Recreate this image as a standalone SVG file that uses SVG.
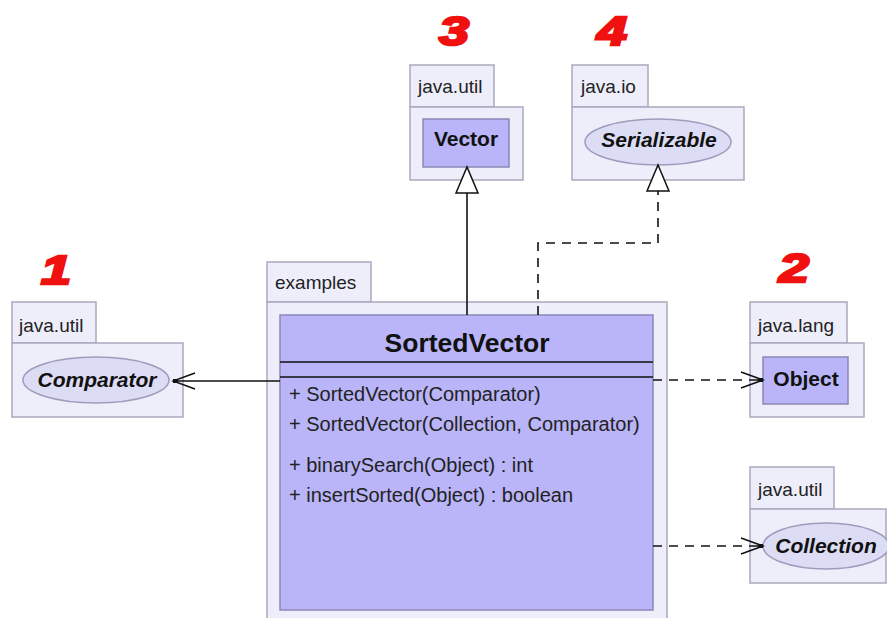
<svg xmlns="http://www.w3.org/2000/svg" width="887" height="618" viewBox="0 0 887 618">
<style>
.pkg{fill:#EEEEFB;stroke:#A9A9BD;stroke-width:1.5}
.cls{fill:#B9B5F8;stroke:#8A88B8;stroke-width:1.5}
.ifc{fill:#DCDCF4;stroke:#9C9CBC;stroke-width:1.5}
.plab{font-family:"Liberation Sans",Arial,sans-serif;font-size:19px;fill:#222}
.name{font-family:"Liberation Sans",Arial,sans-serif;font-size:21px;font-weight:bold;fill:#111;text-anchor:middle}
.it{font-style:italic}
.op{font-family:"Liberation Sans",Arial,sans-serif;font-size:20px;fill:#222}
.num{font-family:"Liberation Sans",Arial,sans-serif;font-size:40px;font-weight:bold;font-style:italic;fill:#F01010;stroke:#F01010;stroke-width:2.5;text-anchor:middle}
.ln{stroke:#111;stroke-width:1.6;fill:none}
.dash{stroke-dasharray:9 7}
</style>
<defs>
<marker id="vee" markerUnits="userSpaceOnUse" markerWidth="26" markerHeight="20" viewBox="0 0 26 20" refX="24" refY="10" orient="auto">
<path d="M2,2 L24,10 L2,18" fill="none" stroke="#111" stroke-width="1.5"/>
<rect x="19" y="8" width="5" height="4" fill="#111"/>
</marker>
<marker id="tri" markerUnits="userSpaceOnUse" markerWidth="30" markerHeight="26" viewBox="0 0 30 26" refX="28" refY="13" orient="auto">
<path d="M2,2 L28,13 L2,24 Z" fill="#fff" stroke="#111" stroke-width="1.5"/>
</marker>
</defs>
<rect width="887" height="618" fill="#fff"/>

<g id="labels">
<text class="num" transform="translate(56,284) scale(1.35,1)">1</text>
<text class="num" transform="translate(794,282) scale(1.35,1)">2</text>
<text class="num" transform="translate(454,45) scale(1.35,1)">3</text>
<text class="num" transform="translate(612,45) scale(1.35,1)">4</text>
</g>

<g id="pkg-examples">
<rect class="pkg" x="267" y="262" width="104" height="40"/>
<rect class="pkg" x="267" y="302" width="400" height="320"/>
<text class="plab" x="275" y="289">examples</text>
</g>

<g id="SortedVector">
<rect class="cls" x="280" y="315" width="373" height="295"/>
<text x="467" y="352" font-family="Liberation Sans,Arial,sans-serif" font-size="26.5" font-weight="bold" fill="#111" text-anchor="middle">SortedVector</text>
<line x1="280" y1="362" x2="653" y2="362" stroke="#111" stroke-width="1.6"/>
<line x1="280" y1="377" x2="653" y2="377" stroke="#111" stroke-width="1.6"/>
<text class="op" x="289" y="401">+ SortedVector(Comparator)</text>
<text class="op" x="289" y="431">+ SortedVector(Collection, Comparator)</text>
<text class="op" x="289" y="472">+ binarySearch(Object) : int</text>
<text class="op" x="289" y="502">+ insertSorted(Object) : boolean</text>
</g>

<g id="Vector">
<rect class="pkg" x="410" y="65" width="84" height="42"/>
<rect class="pkg" x="410" y="107" width="113" height="73"/>
<text class="plab" x="418" y="93">java.util</text>
<rect class="cls" x="423" y="119" width="86" height="48"/>
<text class="name" x="466" y="146">Vector</text>
</g>

<g id="Serializable">
<rect class="pkg" x="572" y="65" width="76" height="42"/>
<rect class="pkg" x="572" y="107" width="172" height="73"/>
<text class="plab" x="581" y="93">java.io</text>
<ellipse class="ifc" cx="658" cy="142" rx="73" ry="23"/>
<text class="name it" x="659" y="147">Serializable</text>
</g>

<g id="Comparator">
<rect class="pkg" x="12" y="302" width="84" height="41"/>
<rect class="pkg" x="12" y="343" width="171" height="74"/>
<text class="plab" x="19" y="332">java.util</text>
<ellipse class="ifc" cx="96" cy="380" rx="73" ry="23"/>
<text class="name it" x="97" y="387">Comparator</text>
</g>

<g id="Object">
<rect class="pkg" x="750" y="302" width="97" height="41"/>
<rect class="pkg" x="750" y="343" width="114" height="74"/>
<text class="plab" x="758" y="332">java.lang</text>
<rect class="cls" x="763" y="357" width="85" height="47"/>
<text class="name" x="806" y="386">Object</text>
</g>

<g id="Collection">
<rect class="pkg" x="750" y="467" width="84" height="42"/>
<rect class="pkg" x="750" y="509" width="136" height="74"/>
<text class="plab" x="758" y="496">java.util</text>
<ellipse class="ifc" cx="826" cy="546" rx="63" ry="23"/>
<text class="name it" x="826" y="553">Collection</text>
</g>

<g id="connectors">
<line class="ln" x1="280" y1="381" x2="173" y2="381" marker-end="url(#vee)"/>
<line class="ln dash" x1="653" y1="380" x2="763" y2="380" marker-end="url(#vee)"/>
<line class="ln dash" x1="653" y1="546" x2="763" y2="546" marker-end="url(#vee)"/>
<line class="ln" x1="467" y1="315" x2="467" y2="167" marker-end="url(#tri)"/>
<polyline class="ln dash" points="538,315 538,243 658,243 658,165" marker-end="url(#tri)"/>
</g>
</svg>
